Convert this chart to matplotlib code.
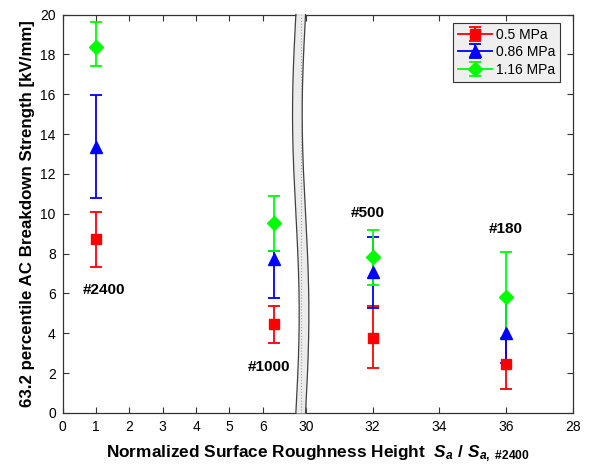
import numpy as np
import matplotlib
matplotlib.use("Agg")
import matplotlib.pyplot as plt

plt.rcParams["font.family"] = ["Liberation Sans", "DejaVu Sans"]
plt.rcParams["mathtext.fontset"] = "custom"
plt.rcParams["mathtext.it"] = "Liberation Sans:italic:bold"
plt.rcParams["mathtext.rm"] = "Liberation Sans:bold"
plt.rcParams["mathtext.bf"] = "Liberation Sans:bold"

# normalized roughness (Sa / Sa,#2400) for each sandpaper grit
roughness = [1.0, 6.35, 32.0, 36.0]
grit_labels = ["#2400", "#1000", "#500", "#180"]

pressures = ["0.5 MPa", "0.86 MPa", "1.16 MPa"]
strength = [
    [8.75, 4.47, 3.78, 2.44],
    [13.36, 7.72, 7.09, 4.00],
    [18.38, 9.55, 7.84, 5.80],
]
err_low = [
    [7.33, 3.51, 2.27, 1.19],
    [10.80, 5.79, 5.25, 2.49],
    [17.40, 8.13, 6.42, 3.78],
]
err_high = [
    [10.10, 5.37, 5.38, 3.75],
    [15.96, 8.13, 8.85, 5.75],
    [19.60, 10.90, 9.18, 8.08],
]
colors = ["#ff0000", "#0000ff", "#00ff00"]
markers = ["s", "^", "D"]
msizes = [6.5, 8.5, 7]

tick_values = [0, 1, 2, 3, 4, 5, 6, 30, 32, 34, 36, 38]
tick_text = ["0", "1", "2", "3", "4", "5", "6", "30", "32", "34", "36", "28"]

# grit label positions (raw roughness, strength)
label_pos = [(1.24, 6.17), (6.2, 2.32), (31.84, 10.05), (36.0, 9.23)]

BREAK_SHIFT = 22.7  # 30 on the right part sits at 7.3 on the axis


def to_axis(x):
    x = np.asarray(x, dtype=float)
    return np.where(x < 20, x, x - BREAK_SHIFT)


fig = plt.figure(figsize=(5.96, 4.70), dpi=100)
ax = fig.add_axes([0.1052, 0.1213, 0.8557, 0.8478])

xs = to_axis(roughness)
handles = []
for i in range(3):
    y = np.array(strength[i])
    lo = y - np.array(err_low[i])
    hi = np.array(err_high[i]) - y
    ax.errorbar(xs, y, yerr=[lo, hi], fmt=markers[i], color=colors[i],
                markersize=msizes[i], capsize=4.5, elinewidth=1.3,
                capthick=1.3, linestyle="none", zorder=4)
    # empty errorbar with a line, only used for the legend entry
    h = ax.errorbar([np.nan], [np.nan], yerr=[[np.nan], [np.nan]],
                    fmt="-" + markers[i], color=colors[i], lw=1.3,
                    markersize=msizes[i], capsize=4.5, elinewidth=1.3,
                    capthick=1.3, label=pressures[i])
    handles.append(h)

for txt, (px, py) in zip(grit_labels, label_pos):
    ax.text(float(to_axis(px)), py, txt, ha="center", va="center",
            fontsize=11, fontweight="bold", zorder=5)

# wavy break band between 6 and 30
yy = np.linspace(0, 20, 200)
t = yy / 20.0
xc = 7.14 + 0.1 * np.sin(2 * np.pi * t)
hw = 0.145
ax.fill_betweenx(yy, xc - hw, xc + hw, color="#ececec", zorder=6,
                 clip_on=False, linewidth=0)
ax.plot(xc - hw, yy, color="#404040", lw=0.9, zorder=7, clip_on=False)
ax.plot(xc + hw, yy, color="#404040", lw=0.9, zorder=7, clip_on=False)
ax.plot([7.14, 7.14], [0, 20], color="#a0a0a0", lw=0.8, ls=":", zorder=7,
        clip_on=False)

ax.set_xlim(0, float(to_axis(38)))
ax.set_ylim(0, 20)
ax.set_xticks(to_axis(tick_values))
ax.set_xticklabels(tick_text)
ax.set_yticks(np.arange(0, 21, 2))
ax.tick_params(direction="in", top=True, right=True, length=4,
               width=0.8, color="#333333", labelsize=10, pad=5)
for sp in ax.spines.values():
    sp.set_color("#333333")
    sp.set_linewidth(0.9)

ax.set_xlabel(r"Normalized Surface Roughness Height  $S_a\ /\ S_{a,\ \#2400}$",
              fontsize=12.4, fontweight="bold", labelpad=7)
ax.set_ylabel("63.2 percentile AC Breakdown Strength [kV/mm]",
              fontsize=12.2, fontweight="bold", labelpad=4)

leg = ax.legend(handles=handles, loc="upper right",
                bbox_to_anchor=(0.975, 0.979),
                fontsize=10, frameon=True, fancybox=False, handlelength=2.4,
                borderpad=0.35, labelspacing=0.25, handletextpad=0.3,
                borderaxespad=0)
leg.get_frame().set_facecolor("#efefef")
leg.get_frame().set_edgecolor("#333333")
leg.get_frame().set_linewidth(0.8)
leg.get_frame().set_alpha(1)

fig.savefig("out.png", dpi=100)
